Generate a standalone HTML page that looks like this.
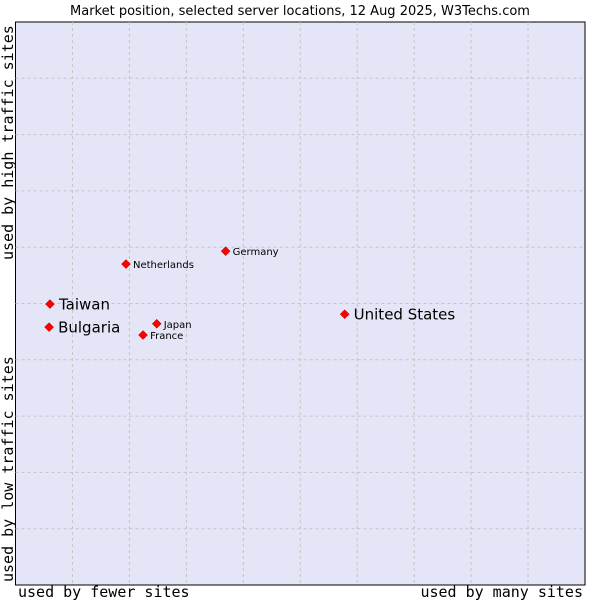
<!DOCTYPE html>
<html><head><meta charset="utf-8"><style>
body{margin:0;background:#fff;}
svg{display:block;}
</style></head><body>
<svg id="chart" width="600" height="600" xmlns="http://www.w3.org/2000/svg">
<text x="300" y="15" text-anchor="middle" font-family="DejaVu Sans, sans-serif" font-size="13" fill="#000">Market position, selected server locations, 12 Aug 2025, W3Techs.com</text>
<rect x="15.5" y="22" width="569.5" height="563" fill="#e4e6f8" stroke="#000" stroke-width="1"/>
<g id="grid"></g>
<g id="points"></g>
<text x="18" y="597" font-family="DejaVu Sans Mono, monospace" font-size="15">used by fewer sites</text>
<text x="583" y="597" text-anchor="end" font-family="DejaVu Sans Mono, monospace" font-size="15">used by many sites</text>
<text transform="translate(13,260) rotate(-90)" font-family="DejaVu Sans Mono, monospace" font-size="15">used by high traffic sites</text>
<text transform="translate(13,582) rotate(-90)" font-family="DejaVu Sans Mono, monospace" font-size="15">used by low traffic sites</text>
</svg>
<script>
const names = ["United States","Taiwan","Bulgaria","Netherlands","Germany","Japan","France"];
const xValues = [57.8,6.05,5.9,19.4,36.9,24.8,22.4];
const yValues = [48.1,49.9,45.8,57.0,59.3,46.4,44.4];
const bigLabel = [true,true,true,false,false,false,false];
const NS="http://www.w3.org/2000/svg";
const L=15.5,R=585,T=22,B=585;
function sx(v){return L+v*(R-L)/100;}
function sy(v){return B-v*(B-T)/100;}
const grid=document.getElementById('grid');
for(let i=1;i<10;i++){
  const lv=document.createElementNS(NS,'line');
  lv.setAttribute('x1',sx(i*10));lv.setAttribute('x2',sx(i*10));lv.setAttribute('y1',T);lv.setAttribute('y2',B);
  lv.setAttribute('stroke','#c4c4c4');lv.setAttribute('stroke-dasharray','3,3');
  
  
  grid.appendChild(lv);
  const lh=document.createElementNS(NS,'line');
  lh.setAttribute('y1',sy(i*10));lh.setAttribute('y2',sy(i*10));lh.setAttribute('x1',L);lh.setAttribute('x2',R);
  lh.setAttribute('stroke','#c4c4c4');lh.setAttribute('stroke-dasharray','3,3');
  
  
  grid.appendChild(lh);
}
const pts=document.getElementById('points');
names.forEach((n,i)=>{
  const x=sx(xValues[i]),y=sy(yValues[i]);
  const d=document.createElementNS(NS,'polygon');
  d.setAttribute('points',`${x},${y-4.5} ${x+4.5},${y} ${x},${y+4.5} ${x-4.5},${y}`);
  d.setAttribute('fill','#ff0000');d.setAttribute('stroke','#a00');d.setAttribute('stroke-width','0.5');
  
  
  pts.appendChild(d);
  const t=document.createElementNS(NS,'text');
  t.setAttribute('x',x+(bigLabel[i]?9:7));
  t.setAttribute('y',y+(bigLabel[i]?5.5:4));
  t.setAttribute('font-family','DejaVu Sans, sans-serif');
  t.setAttribute('font-size',bigLabel[i]?'15':'10');
  t.textContent=n;
  
  
  pts.appendChild(t);
});
</script>
</body></html>
